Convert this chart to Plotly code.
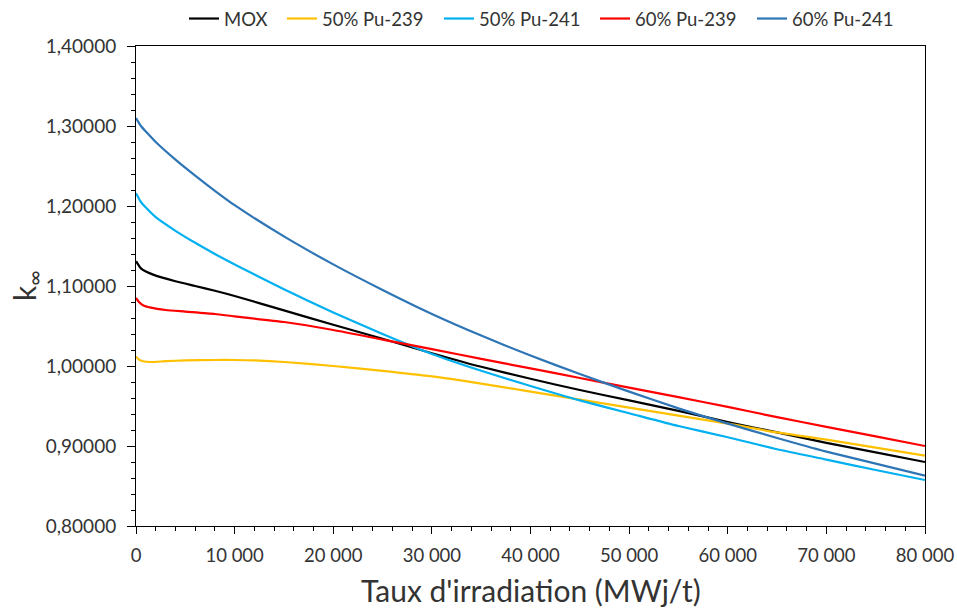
import plotly.graph_objects as go

# Burnup (MWj/t) and k-infinity values
x_pu241_60 = [0, 500, 1000, 2000, 4000, 6000, 8000, 10000, 15000, 20000, 25000, 30000, 35000,
              40000, 45000, 50000, 55000, 60000, 65000, 70000, 75000, 80000]
k_pu241_60 = [1.310, 1.300, 1.293, 1.280, 1.258, 1.238, 1.219, 1.201, 1.162, 1.127, 1.095, 1.065, 1.038,
              1.013, 0.990, 0.968, 0.947, 0.928, 0.910, 0.893, 0.878, 0.863]

x_pu241_50 = [0, 500, 1000, 2000, 4000, 6000, 8000, 10000, 15000, 20000, 25000, 30000, 35000,
              40000, 45000, 50000, 55000, 60000, 65000, 70000, 75000, 80000]
k_pu241_50 = [1.216, 1.205, 1.198, 1.186, 1.169, 1.154, 1.140, 1.127, 1.096, 1.067, 1.040, 1.015, 0.994,
              0.975, 0.957, 0.941, 0.925, 0.911, 0.896, 0.883, 0.870, 0.8575]

x_mox = [0, 500, 1000, 2000, 4000, 6000, 8000, 10000, 15000, 20000, 25000, 30000, 35000,
         40000, 45000, 50000, 55000, 60000, 65000, 70000, 75000, 80000]
k_mox = [1.131, 1.122, 1.118, 1.113, 1.106, 1.100, 1.094, 1.0875, 1.0695, 1.0515, 1.034, 1.016, 0.999,
         0.984, 0.970, 0.957, 0.944, 0.930, 0.917, 0.904, 0.892, 0.880]

x_pu239_60 = [0, 300, 700, 1500, 3000, 5000, 8000, 10000, 15000, 20000, 25000, 30000, 35000,
              40000, 45000, 50000, 55000, 60000, 65000, 70000, 75000, 80000]
k_pu239_60 = [1.085, 1.080, 1.076, 1.073, 1.070, 1.068, 1.065, 1.062, 1.055, 1.045, 1.033, 1.021, 1.009,
              0.997, 0.985, 0.973, 0.961, 0.949, 0.936, 0.924, 0.912, 0.900]

x_pu239_50 = [0, 300, 700, 1500, 3000, 5000, 8000, 10000, 12000, 15000, 20000, 25000, 30000, 35000,
              40000, 45000, 50000, 55000, 60000, 65000, 70000, 75000, 80000]
k_pu239_50 = [1.012, 1.008, 1.006, 1.005, 1.006, 1.007, 1.0075, 1.0075, 1.007, 1.005, 1.000, 0.994, 0.987, 0.978,
              0.968, 0.958, 0.948, 0.938, 0.928, 0.917, 0.908, 0.898, 0.888]

series_names = ["MOX", "50% Pu-239", "50% Pu-241", "60% Pu-239", "60% Pu-241"]
series_colors = ["#000000", "#FFC000", "#00B0F0", "#FF0000", "#2E75B6"]
series_x = [x_mox, x_pu239_50, x_pu241_50, x_pu239_60, x_pu241_60]
series_y = [k_mox, k_pu239_50, k_pu241_50, k_pu239_60, k_pu241_60]

x_title = "Taux d'irradiation (MWj/t)"
y_title = "k<sub>∞</sub>"

W, H = 957, 610
legend_left_px = [184, 282, 439, 595, 752]   # left edge of each legend entry box

txt = "#333333"
fig = go.Figure()
layout_legends = {}
for i, (name, color, xs, ys) in enumerate(zip(series_names, series_colors, series_x, series_y)):
    lg = "legend" if i == 0 else f"legend{i + 1}"
    fig.add_trace(go.Scatter(x=xs, y=ys, mode="lines", name=name, legend=lg,
                             line=dict(color=color, width=2.2, shape="spline", smoothing=0.6)))
    layout_legends[lg] = dict(orientation="h", xref="container", yref="container",
                              x=legend_left_px[i] / W, xanchor="left",
                              y=1 - 19 / H, yanchor="middle",
                              font=dict(family="Lato, sans-serif", size=18.5, color=txt),
                              bgcolor="rgba(0,0,0,0)", borderwidth=0)

fig.update_layout(
    width=W, height=H,
    margin=dict(l=136, r=32, t=46, b=84, autoexpand=False),
    paper_bgcolor="white", plot_bgcolor="white",
    separators=", ",
    font=dict(family="Lato, sans-serif", color=txt, size=18),
    showlegend=True,
    annotations=[
        dict(text=x_title, xref="paper", yref="paper", x=0.5, y=-(590 - 526) / 480,
             xanchor="center", yanchor="middle", showarrow=False,
             font=dict(family="Lato, sans-serif", size=30, color=txt)),
        dict(text=y_title, xref="paper", yref="paper", x=(26 - 136) / 789, y=0.5,
             xanchor="center", yanchor="middle", showarrow=False, textangle=-90,
             font=dict(family="Lato, sans-serif", size=30, color=txt)),
    ],
    **layout_legends,
)
fig.update_xaxes(
    range=[0, 80000], dtick=10000, tickformat=",d", automargin=False,
    showgrid=False, zeroline=False,
    showline=True, linecolor="#000000", linewidth=1, mirror=True,
    ticks="outside", ticklen=7, tickcolor="#000000", ticklabelstandoff=6,
    minor=dict(dtick=2000, ticks="outside", ticklen=4, tickcolor="#000000", showgrid=False),
    tickfont=dict(family="Lato, sans-serif", size=18.5, color=txt),
)
fig.update_yaxes(
    range=[0.8, 1.4], dtick=0.1, tickformat=".5f", automargin=False,
    showgrid=False, zeroline=False,
    showline=True, linecolor="#000000", linewidth=1, mirror=True,
    ticks="outside", ticklen=8, tickcolor="#000000", ticklabelstandoff=7,
    minor=dict(dtick=0.02, ticks="outside", ticklen=4, tickcolor="#000000", showgrid=False),
    tickfont=dict(family="Lato, sans-serif", size=19, color=txt),
)

fig.write_html("out.html", config={"displayModeBar": False},
               post_script="document.body.style.margin='0px';")
